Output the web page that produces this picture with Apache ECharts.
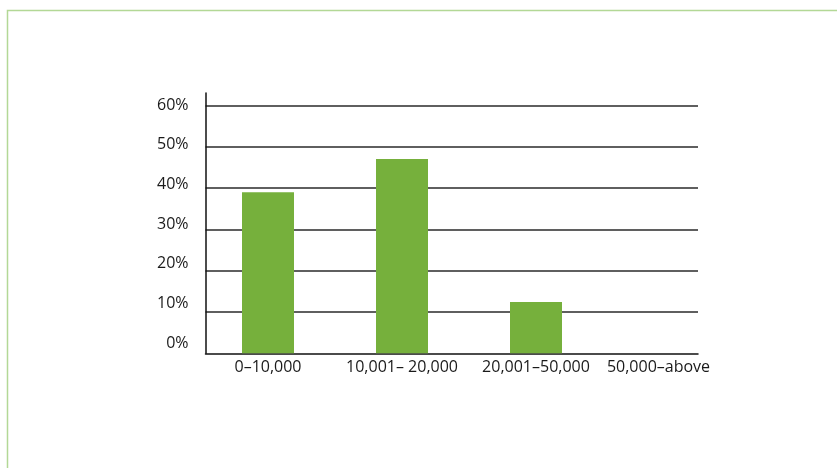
<!DOCTYPE html>
<html>
<head>
<meta charset="utf-8">
<script src="https://cdn.jsdelivr.net/npm/echarts@6/dist/echarts.min.js"></script>
<style>
html,body{margin:0;padding:0;background:#fff;}
#chart{width:837px;height:468px;}
</style>
</head>
<body>
<div id="chart"></div>
<script>
var categories = ['0\u201310,000', '10,001\u2013 20,000', '20,001\u201350,000', '50,000\u2013above'];
var shares = [39, 47, 12.4, 0];
var yTicks = [0, 10, 20, 30, 40, 50, 60];

var FONT = '"Open Sans", sans-serif';
var TXT = '#1a1a1a';
var chart = echarts.init(document.getElementById('chart'), null, {renderer: 'canvas'});

var option = {
  animation: false,
  backgroundColor: '#ffffff',
  graphic: [{
    type: 'rect',
    shape: {x: 7.5, y: 10.5, width: 900, height: 500},
    style: {fill: 'none', stroke: '#b3d896', lineWidth: 1.5},
    silent: true, z: -10
  }],
  grid: [
    {left: 205.5, right: 139, top: 93, bottom: 114.7},
    {left: 201, right: 100, top: 93, bottom: 114.7},
    {left: 205.5, right: 139, top: 105, bottom: 125}
  ],
  xAxis: [
    {gridIndex: 0, type: 'category', data: categories,
     axisLine: {show: true, lineStyle: {color: '#111', width: 1.5}},
     axisTick: {show: false}, axisLabel: {show: false}, splitLine: {show: false}},
    {gridIndex: 1, type: 'category', data: categories,
     axisLine: {show: false}, axisTick: {show: false}, splitLine: {show: false},
     axisLabel: {show: true, margin: 6, color: TXT, fontFamily: FONT, fontSize: 16,
       interval: 0,
       formatter: function (v, i) { return i === categories.length - 1 ? '{s|' + v + '}' : v; },
       rich: {s: {padding: [0, 23, 0, 0], color: TXT, fontFamily: FONT, fontSize: 16}}}},
    {gridIndex: 2, type: 'category', data: categories, show: false}
  ],
  yAxis: [
    {gridIndex: 0, type: 'value', min: 0, max: 63, interval: 10,
     axisLine: {show: true, lineStyle: {color: '#111', width: 1.5}},
     axisTick: {show: false}, axisLabel: {show: false},
     splitLine: {show: true, showMinLine: false, showMaxLine: false, lineStyle: {color: '#2a2a2a', width: 1.5}}},
    {gridIndex: 1, type: 'value', min: 0, max: 63, interval: 10, show: false, splitLine: {show: false}},
    {gridIndex: 2, type: 'value', min: yTicks[0], max: yTicks[yTicks.length - 1], interval: 10,
     axisLine: {show: false}, axisTick: {show: false}, splitLine: {show: false},
     axisLabel: {show: true, margin: 17, color: TXT, fontFamily: FONT, fontSize: 16,
       formatter: function (v) { return v + '%'; }}}
  ],
  series: [{
    type: 'bar', xAxisIndex: 1, yAxisIndex: 1,
    data: shares, barWidth: 52,
    itemStyle: {color: '#76b03c'},
    silent: true
  }]
};
chart.setOption(option);
</script>
</body>
</html>
